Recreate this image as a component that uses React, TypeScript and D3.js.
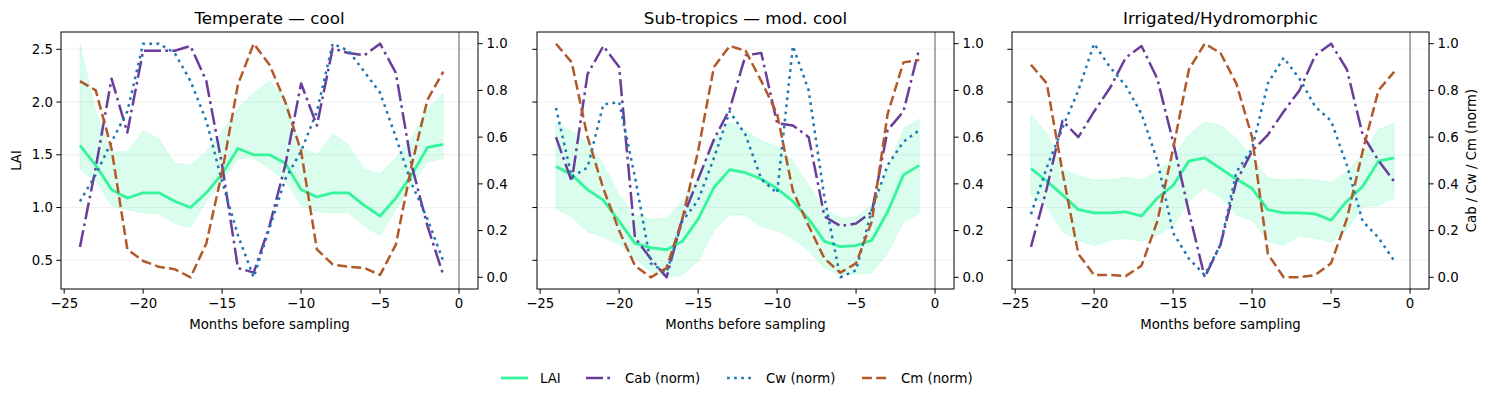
import * as d3 from "d3";

// months before sampling
const months = [-24, -23, -22, -21, -20, -19, -18, -17, -16, -15, -14, -13, -12, -11, -10, -9, -8, -7, -6, -5, -4, -3, -2, -1];

const titles = ["Temperate — cool", "Sub-tropics — mod. cool", "Irrigated/Hydromorphic"];

// Temperate — cool
const temperateLai = [1.59, 1.40, 1.17, 1.09, 1.14, 1.14, 1.06, 1.00, 1.14, 1.32, 1.56, 1.50, 1.50, 1.42, 1.17, 1.10, 1.14, 1.14, 1.02, 0.92, 1.09, 1.31, 1.57, 1.60];
const temperateLo = [1.36, 1.25, 1.02, 0.98, 0.95, 0.94, 0.85, 0.81, 1.06, 1.25, 1.46, 1.47, 1.37, 1.26, 1.02, 0.96, 0.95, 0.95, 0.83, 0.73, 0.98, 1.21, 1.43, 1.47];
const temperateHi = [2.55, 1.91, 1.53, 1.53, 1.73, 1.65, 1.42, 1.40, 1.53, 1.72, 1.94, 2.08, 2.20, 2.04, 1.56, 1.50, 1.70, 1.59, 1.36, 1.32, 1.47, 1.66, 1.94, 2.08];
const temperateCab = [0.13, 0.47, 0.85, 0.62, 0.97, 0.97, 0.97, 0.99, 0.84, 0.48, 0.04, 0.02, 0.22, 0.48, 0.83, 0.65, 0.98, 0.96, 0.95, 1.0, 0.875, 0.48, 0.22, 0.01];
const temperateCw = [0.325, 0.44, 0.58, 0.71, 1.0, 1.0, 0.96, 0.84, 0.67, 0.41, 0.18, 0.0, 0.21, 0.42, 0.54, 0.71, 1.0, 0.97, 0.88, 0.79, 0.60, 0.40, 0.25, 0.07];
const temperateCm = [0.84, 0.80, 0.55, 0.12, 0.07, 0.045, 0.035, 0.0, 0.145, 0.45, 0.825, 1.0, 0.91, 0.75, 0.54, 0.12, 0.055, 0.045, 0.04, 0.01, 0.14, 0.48, 0.76, 0.88];

// Sub-tropics — mod. cool
const subtropLai = [1.39, 1.31, 1.17, 1.07, 0.87, 0.66, 0.62, 0.60, 0.68, 0.89, 1.19, 1.36, 1.33, 1.27, 1.18, 1.06, 0.89, 0.68, 0.63, 0.64, 0.69, 0.96, 1.31, 1.40];
const subtropLo = [0.99, 0.91, 0.77, 0.72, 0.65, 0.52, 0.39, 0.34, 0.36, 0.49, 0.78, 0.93, 0.93, 0.82, 0.78, 0.71, 0.59, 0.43, 0.36, 0.37, 0.38, 0.57, 0.87, 0.94];
const subtropHi = [1.80, 1.72, 1.62, 1.41, 1.12, 0.93, 0.89, 0.90, 1.06, 1.28, 1.64, 1.81, 1.73, 1.63, 1.58, 1.44, 1.21, 0.99, 0.90, 0.91, 1.02, 1.37, 1.75, 1.84];
const subtropCab = [0.60, 0.41, 0.87, 0.99, 0.90, 0.17, 0.08, 0.0, 0.25, 0.42, 0.59, 0.72, 0.95, 0.96, 0.66, 0.65, 0.60, 0.26, 0.22, 0.23, 0.28, 0.63, 0.71, 0.98];
const subtropCw = [0.725, 0.43, 0.47, 0.74, 0.75, 0.43, 0.06, 0.02, 0.24, 0.33, 0.51, 0.71, 0.61, 0.42, 0.36, 0.99, 0.80, 0.34, 0.0, 0.03, 0.29, 0.48, 0.58, 0.63];
const subtropCm = [1.0, 0.92, 0.60, 0.38, 0.20, 0.05, 0.0, 0.04, 0.25, 0.54, 0.90, 0.99, 0.97, 0.84, 0.70, 0.37, 0.22, 0.08, 0.02, 0.06, 0.24, 0.70, 0.92, 0.93];

// Irrigated/Hydromorphic
const irrigLai = [1.37, 1.25, 1.12, 0.98, 0.95, 0.95, 0.96, 0.92, 1.09, 1.21, 1.44, 1.47, 1.37, 1.27, 1.18, 0.98, 0.95, 0.95, 0.94, 0.88, 1.06, 1.20, 1.44, 1.47];
const irrigLo = [1.12, 1.01, 0.77, 0.69, 0.64, 0.69, 0.71, 0.68, 0.74, 0.82, 1.06, 1.19, 1.09, 0.93, 0.88, 0.68, 0.64, 0.73, 0.71, 0.67, 0.79, 1.01, 1.02, 1.09];
const irrigHi = [1.88, 1.70, 1.36, 1.30, 1.26, 1.26, 1.29, 1.26, 1.34, 1.47, 1.69, 1.81, 1.78, 1.66, 1.47, 1.28, 1.26, 1.27, 1.26, 1.24, 1.34, 1.50, 1.74, 1.80];
const irrigCab = [0.13, 0.38, 0.67, 0.60, 0.71, 0.81, 0.94, 0.99, 0.85, 0.58, 0.28, 0.0, 0.14, 0.41, 0.54, 0.61, 0.71, 0.80, 0.95, 1.0, 0.89, 0.61, 0.50, 0.41];
const irrigCw = [0.27, 0.47, 0.64, 0.80, 1.0, 0.90, 0.82, 0.70, 0.50, 0.19, 0.08, 0.01, 0.14, 0.45, 0.55, 0.83, 0.94, 0.85, 0.73, 0.67, 0.48, 0.24, 0.17, 0.07];
const irrigCm = [0.91, 0.83, 0.45, 0.10, 0.01, 0.01, 0.005, 0.05, 0.24, 0.55, 0.89, 1.0, 0.96, 0.83, 0.60, 0.10, 0.0, 0.0, 0.01, 0.06, 0.25, 0.54, 0.80, 0.88];

const xTicks = [-25, -20, -15, -10, -5, 0];
const laiTicks = [0.5, 1.0, 1.5, 2.0, 2.5];
const normTicks = [0, 0.2, 0.4, 0.6, 0.8, 1.0];

const panels = [
  { title: titles[0], lai: temperateLai, lo: temperateLo, hi: temperateHi, cab: temperateCab, cw: temperateCw, cm: temperateCm },
  { title: titles[1], lai: subtropLai, lo: subtropLo, hi: subtropHi, cab: subtropCab, cw: subtropCw, cm: subtropCm },
  { title: titles[2], lai: irrigLai, lo: irrigLo, hi: irrigHi, cab: irrigCab, cw: irrigCw, cm: irrigCm },
];

const GREEN = "#33f59b";
const series = [
  { key: "cab", label: "Cab (norm)", color: "#6a3d9a", dash: "17,4.3,2.7,4.3" },
  { key: "cw", label: "Cw (norm)", color: "#1f77b4", dash: "2.7,4.4" },
  { key: "cm", label: "Cm (norm)", color: "#b15928", dash: "9.9,4.3" },
];

const W = 1489;
const H = 398;
const lefts = [61, 537, 1012];
const pw = 417;
const top = 32;
const bottom = 289;
const FONT = "'DejaVu Sans', sans-serif";
const FS = 13.3;

const x = d3.scaleLinear().domain([-25.2, 1.2]).range([0, pw]);
const yL = d3.scaleLinear().domain([0.228, 2.664]).range([bottom, top]);
const yR = d3.scaleLinear().domain([-0.05, 1.05]).range([bottom, top]);
const fmt = d3.format(".1f");
const fmtX = d3.format("d");

function Panel({ p, i }: { p: any; i: number }) {
  const lx = (d: number, j: number) => x(months[j]);
  const laiLine = d3.line<number>().x(lx).y((d) => yL(d));
  const normLine = d3.line<number>().x(lx).y((d) => yR(d));
  const band = d3
    .area<number>()
    .x(lx)
    .y0((d, j) => yL(p.lo[j]))
    .y1((d, j) => yL(p.hi[j]));
  const clipId = `clip${i}`;
  return (
    <g transform={`translate(${lefts[i]},0)`}>
      <defs>
        <clipPath id={clipId}>
          <rect x={0} y={top} width={pw} height={bottom - top} />
        </clipPath>
      </defs>
      {/* grid */}
      {laiTicks.map((t) => (
        <line key={t} x1={0} x2={pw} y1={yL(t)} y2={yL(t)} stroke="#b0b0b0" strokeOpacity={0.25} strokeWidth={0.8} />
      ))}
      <line x1={x(0)} x2={x(0)} y1={top} y2={bottom} stroke="#808080" strokeWidth={1.3} />
      <g clipPath={`url(#${clipId})`}>
        <path d={band(p.lai) || ""} fill={GREEN} fillOpacity={0.18} stroke={GREEN} strokeOpacity={0.15} strokeWidth={1} />
        <path d={laiLine(p.lai) || ""} fill="none" stroke={GREEN} strokeWidth={2.8} strokeLinejoin="round" />
        {series.map((s) => (
          <path
            key={s.key}
            d={normLine(p[s.key]) || ""}
            fill="none"
            stroke={s.color}
            strokeWidth={2.5}
            strokeDasharray={s.dash}
            strokeLinejoin="round"
          />
        ))}
      </g>
      <rect x={0} y={top} width={pw} height={bottom - top} fill="none" stroke="#000" strokeWidth={1} />
      {/* x axis */}
      {xTicks.map((t) => (
        <g key={t} transform={`translate(${x(t)},${bottom})`}>
          <line y2={4.7} stroke="#000" strokeWidth={1} />
          <text y={19} textAnchor="middle" fontSize={FS} fontFamily={FONT}>
            {fmtX(t)}
          </text>
        </g>
      ))}
      <text x={pw / 2} y={329} textAnchor="middle" fontSize={FS} fontFamily={FONT}>
        Months before sampling
      </text>
      {/* left axis */}
      {laiTicks.map((t) => (
        <g key={t} transform={`translate(0,${yL(t)})`}>
          <line x2={-4.7} stroke="#000" strokeWidth={1} />
          {i === 0 && (
            <text x={-8} dy="0.35em" textAnchor="end" fontSize={FS} fontFamily={FONT}>
              {fmt(t)}
            </text>
          )}
        </g>
      ))}
      {/* right axis */}
      {normTicks.map((t) => (
        <g key={t} transform={`translate(${pw},${yR(t)})`}>
          <line x2={4.7} stroke="#000" strokeWidth={1} />
          <text x={8.5} dy="0.35em" textAnchor="start" fontSize={FS} fontFamily={FONT}>
            {fmt(t)}
          </text>
        </g>
      ))}
      <text x={pw / 2} y={23.5} textAnchor="middle" fontSize={16.7} fontFamily={FONT}>
        {p.title}
      </text>
    </g>
  );
}

export default function App() {
  const legendItems = [
    { label: "LAI", color: GREEN, dash: "none", x: 501, w: 2.8 },
    { label: series[0].label, color: series[0].color, dash: series[0].dash, x: 586, w: 2.5 },
    { label: series[1].label, color: series[1].color, dash: series[1].dash, x: 727, w: 2.5 },
    { label: series[2].label, color: series[2].color, dash: series[2].dash, x: 862, w: 2.5 },
  ];
  const midY = (top + bottom) / 2;
  return (
    <svg width={W} height={H} style={{ position: "absolute", left: 0, top: 0, background: "#fff" }}>
      {panels.map((p, i) => (
        <Panel key={i} p={p} i={i} />
      ))}
      <text transform={`translate(21,${midY}) rotate(-90)`} textAnchor="middle" fontSize={FS} fontFamily={FONT}>
        LAI
      </text>
      <text
        transform={`translate(1476,${midY}) rotate(-90)`}
        textAnchor="middle"
        fontSize={FS}
        fontFamily={FONT}
      >
        Cab / Cw / Cm (norm)
      </text>
      {legendItems.map((d) => (
        <g key={d.label} transform={`translate(${d.x},378)`}>
          <line x1={0} x2={27} stroke={d.color} strokeWidth={d.w} strokeDasharray={d.dash} />
          <text x={39} dy="0.35em" fontSize={FS} fontFamily={FONT}>
            {d.label}
          </text>
        </g>
      ))}
    </svg>
  );
}
